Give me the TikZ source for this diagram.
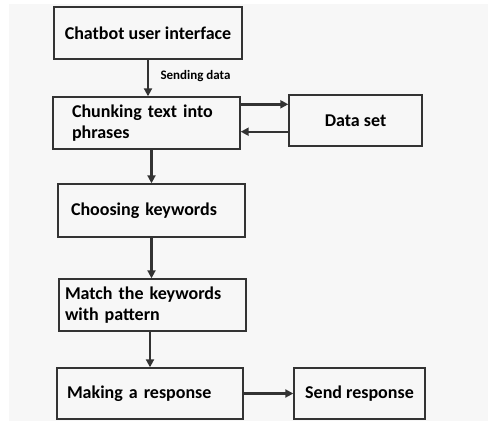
\documentclass[tikz,border=0pt]{standalone}
\usepackage{fontspec}
\setmainfont{Carlito}
\usetikzlibrary{arrows.meta,calc}
\definecolor{boxline}{HTML}{333333}
\definecolor{paper}{HTML}{F7F7F7}
\tikzset{
  stepbox/.style = {draw=boxline,line width=1.4pt,minimum height=52pt,inner ysep=0pt,
                    font=\bfseries\fontsize{18}{21}\selectfont},
  leftbox/.style = {stepbox,align=left},
  flowarr/.style = {-{Triangle[length=8pt,width=8pt]},line width=2.4pt,draw=boxline}
}

\begin{document}
\begin{tikzpicture}[x=1pt,y=-1pt]
  \useasboundingbox (0,0) rectangle (488,421);
  \fill[paper] (9,4) rectangle (488,421);
  % main column
  \node[stepbox,minimum width=188pt] (ui) at (148,33) {Chatbot user interface};
  \node[leftbox,text width=149pt,inner xsep=19pt] (chunk) at (146.5,123) {Chunking text into\\phrases};
  \node[leftbox,text width=161pt,inner xsep=13pt,minimum height=53pt] (keys) at (151.5,210.5) {Choosing keywords};
  \node[leftbox,text width=175pt,inner xsep=6pt] (match) at (152.5,305) {Match the keywords\\with pattern};
  \node[leftbox,text width=166pt,inner xsep=10pt,minimum height=51pt] (resp) at (150,393.5) {Making a response};
  % side boxes
  \node[stepbox,minimum width=133pt,minimum height=51pt] (data) at (355.5,120.5) {Data set};
  \node[stepbox,minimum width=131pt,minimum height=51pt] (send) at (359.5,393.5) {Send response};
  % arrows down the column
  \draw[flowarr] (ui.south) -- (ui.south |- chunk.north)
    node[midway,right,xshift=8pt,yshift=2pt,font=\bfseries\fontsize{13}{15}\selectfont,text=black] {Sending data};
  \draw[flowarr] (keys.north |- chunk.south) -- (keys.north);
  \draw[flowarr] (keys.south) -- (keys.south |- match.north);
  \draw[flowarr] (resp.north |- match.south) -- (resp.north);
  % to and from the data set
  \coordinate (toset) at ($(chunk.north east)+(0,8)$);
  \coordinate (fromset) at ($(chunk.south east)+(0,-18)$);
  \draw[flowarr] (toset) -- (toset -| data.west);
  \draw[flowarr] (fromset -| data.west) -- (fromset);
  \draw[flowarr] (resp.east) -- (send.west);
\end{tikzpicture}
\end{document}
